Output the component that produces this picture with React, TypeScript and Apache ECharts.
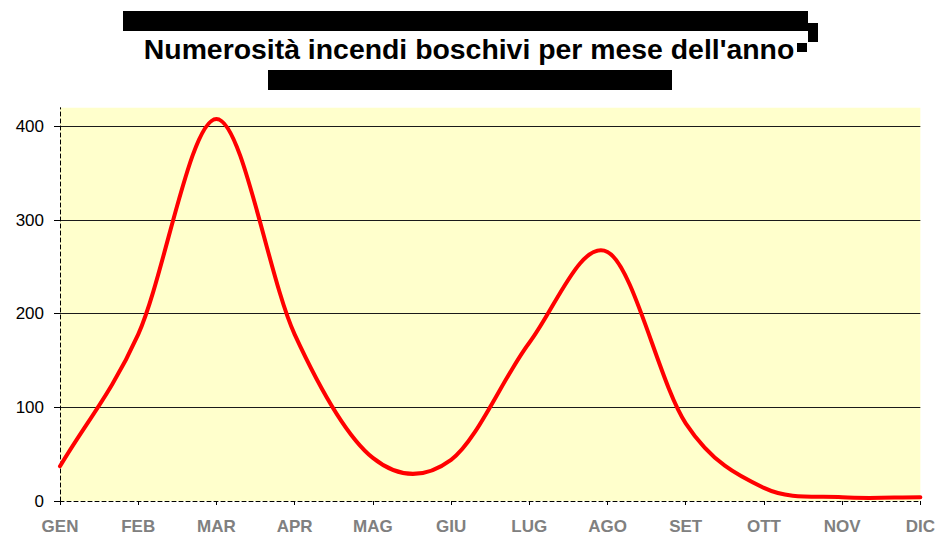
import React, { useEffect, useRef } from "react";
import * as echarts from "echarts";

const TITLE = "Numerosità incendi boschivi per mese dell'anno";
const months = ["GEN", "FEB", "MAR", "APR", "MAG", "GIU", "LUG", "AGO", "SET", "OTT", "NOV", "DIC"];
const fires = [37, 178, 408, 178, 46, 44, 169, 266, 83, 14, 4, 4];
const yTicks = [0, 100, 200, 300, 400];

const FONT = "'Liberation Sans', Arial, Helvetica, sans-serif";
const RED = "#ff0000";

export default function App() {
  const ref = useRef<HTMLDivElement>(null);

  useEffect(() => {
    if (!ref.current) return;
    const chart = echarts.init(ref.current, undefined, { renderer: "svg" });

    const renderItem = (params: any, api: any) => {
      if (params.dataIndex !== 0) return null;
      const pts: number[][] = fires.map((v, i) => api.coord([i, v]));
      const n = pts.length;
      const get = (i: number) => {
        if (i < 0) return [2 * pts[0][0] - pts[1][0], 2 * pts[0][1] - pts[1][1]];
        if (i >= n) return [2 * pts[n - 1][0] - pts[n - 2][0], 2 * pts[n - 1][1] - pts[n - 2][1]];
        return pts[i];
      };
      let d = `M${pts[0][0]},${pts[0][1]}`;
      for (let i = 0; i < n - 1; i++) {
        const p0 = get(i - 1);
        const p1 = get(i);
        const p2 = get(i + 1);
        const p3 = get(i + 2);
        const c1x = p1[0] + (p2[0] - p0[0]) / 6;
        const c1y = p1[1] + (p2[1] - p0[1]) / 6;
        const c2x = p2[0] - (p3[0] - p1[0]) / 6;
        const c2y = p2[1] - (p3[1] - p1[1]) / 6;
        d += ` C${c1x},${c1y} ${c2x},${c2y} ${p2[0]},${p2[1]}`;
      }
      return {
        type: "path",
        shape: { pathData: d },
        style: { stroke: RED, lineWidth: 4, fill: "none", lineJoin: "round", lineCap: "round" },
      };
    };

    chart.setOption({
      animation: false,
      backgroundColor: "#ffffff",
      title: {
        text: TITLE,
        left: "center",
        top: 34,
        padding: 0,
        textStyle: {
          fontFamily: FONT,
          fontWeight: "bold",
          fontSize: 28.4,
          lineHeight: 29,
          color: "#000000",
        },
      },
      graphic: [
        { type: "rect", left: 123, top: 11, shape: { width: 685, height: 20 }, style: { fill: "#000" } },
        { type: "rect", left: 808, top: 23, shape: { width: 10, height: 19 }, style: { fill: "#000" } },
        { type: "rect", left: 797, top: 43, shape: { width: 10, height: 9 }, style: { fill: "#000" } },
        { type: "rect", left: 268, top: 70, shape: { width: 404, height: 20 }, style: { fill: "#000" } },
      ],
      grid: {
        left: 60,
        right: 16,
        top: 107.7,
        bottom: 36,
        show: true,
        backgroundColor: "#ffffcc",
        borderWidth: 0,
      },
      xAxis: {
        type: "category",
        data: months,
        boundaryGap: false,
        axisLine: { show: true, lineStyle: { color: "#000", width: 1, type: [4, 3] } },
        axisTick: { show: true, length: 4, lineStyle: { color: "#000", width: 1 } },
        axisLabel: {
          color: "#808080",
          fontWeight: "bold",
          fontSize: 17,
          fontFamily: FONT,
          margin: 17,
        },
        splitLine: { show: false },
      },
      yAxis: {
        type: "value",
        min: 0,
        max: 420,
        interval: 100,
        axisLine: { show: true, lineStyle: { color: "#000", width: 1, type: [4, 3] } },
        axisTick: { show: true, length: 6, customValues: yTicks, lineStyle: { color: "#000", width: 1 } },
        axisLabel: {
          color: "#000",
          fontSize: 17,
          fontFamily: FONT,
          margin: 16,
          customValues: yTicks,
          formatter: (v: number) => (v > 400 ? "" : String(v)),
        },
        splitLine: {
          show: true,
          showMinLine: false,
          lineStyle: { color: "#1a1a1a", width: 1 },
        },
      },
      series: [
        {
          type: "custom",
          name: "Incendi",
          silent: true,
          clip: false,
          encode: { x: 0, y: 1 },
          data: fires.map((v, i) => [i, v]),
          renderItem,
          z: 3,
        },
      ],
    });

    return () => chart.dispose();
  }, []);

  return (
    <div
      ref={ref}
      style={{ position: "fixed", left: 0, top: 0, width: 938, height: 537, background: "#fff" }}
    />
  );
}
